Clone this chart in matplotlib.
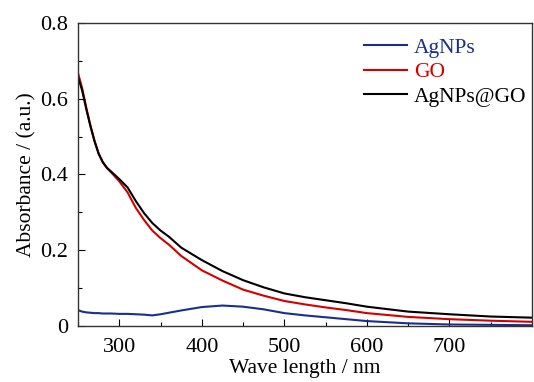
import matplotlib
matplotlib.use("Agg")
import matplotlib.pyplot as plt
from matplotlib.ticker import MultipleLocator, FixedLocator, FuncFormatter

plt.rcParams['font.family'] = ['Liberation Serif', 'DejaVu Serif']

wavelength = [250, 255, 260, 265, 270, 275, 280, 285, 290, 300, 310, 320, 330, 340, 350,
              360, 375, 400, 425, 450, 475, 500, 525, 550, 575, 600, 650, 700, 750, 800]
agnps = [0.042, 0.038, 0.036, 0.035, 0.034, 0.034, 0.033, 0.033, 0.033, 0.032, 0.032,
         0.031, 0.030, 0.028, 0.031, 0.035, 0.041, 0.050, 0.054, 0.051, 0.044, 0.034,
         0.028, 0.023, 0.018, 0.013, 0.007, 0.004, 0.003, 0.002]
go = [0.668, 0.628, 0.577, 0.530, 0.489, 0.455, 0.432, 0.417, 0.406, 0.382, 0.353,
      0.312, 0.280, 0.252, 0.232, 0.215, 0.185, 0.147, 0.120, 0.096, 0.080, 0.066,
      0.057, 0.049, 0.042, 0.034, 0.024, 0.018, 0.014, 0.011]
agnps_go = [0.658, 0.622, 0.573, 0.528, 0.488, 0.455, 0.433, 0.418, 0.408, 0.388, 0.366,
            0.330, 0.298, 0.272, 0.252, 0.236, 0.207, 0.174, 0.145, 0.121, 0.102, 0.086,
            0.076, 0.068, 0.060, 0.051, 0.038, 0.031, 0.025, 0.022]

fig = plt.figure(figsize=(5.34, 3.82), dpi=100)
ax = fig.add_axes([78/534, 1-326/382, (532-78)/534, (326-23)/382])

ax.plot(wavelength, agnps, color='#1a2f8c', lw=1.5, label='AgNPs')
ax.plot(wavelength, go, color='#d40000', lw=1.5, label='GO')
ax.plot(wavelength, agnps_go, color='black', lw=1.5, label='AgNPs@GO')

ax.set_xlim(250, 800)
ax.set_ylim(0, 0.8)
ax.xaxis.set_major_locator(FixedLocator([300, 400, 500, 600, 700]))
ax.xaxis.set_minor_locator(MultipleLocator(50))
ax.yaxis.set_major_locator(MultipleLocator(0.2))
ax.yaxis.set_minor_locator(MultipleLocator(0.1))
ax.yaxis.set_major_formatter(FuncFormatter(lambda v, p: '0' if abs(v) < 1e-9 else f'{v:.1f}'))
ax.tick_params(which='both', direction='in', top=False, right=False, labelsize=16)
ax.tick_params(axis='y', which='major', pad=7)
ax.tick_params(axis='x', which='major', pad=9)
ax.tick_params(which='major', length=5, width=0.8)
ax.tick_params(which='minor', length=3, width=0.8)
for s in ax.spines.values():
    s.set_linewidth(1.0)
    s.set_color('#333333')

ax.set_xlabel('Wave length / nm', fontsize=15.5, labelpad=1)
ax.set_ylabel('Absorbance / (a.u.)', fontsize=15.5, labelpad=3)

leg = ax.legend(loc='upper right', bbox_to_anchor=(1.03, 1.015), frameon=False,
                fontsize=15.5, handlelength=2.0, handletextpad=0.3, labelspacing=0.2,
                labelcolor='linecolor')

fig.savefig('out.png', dpi=100)
